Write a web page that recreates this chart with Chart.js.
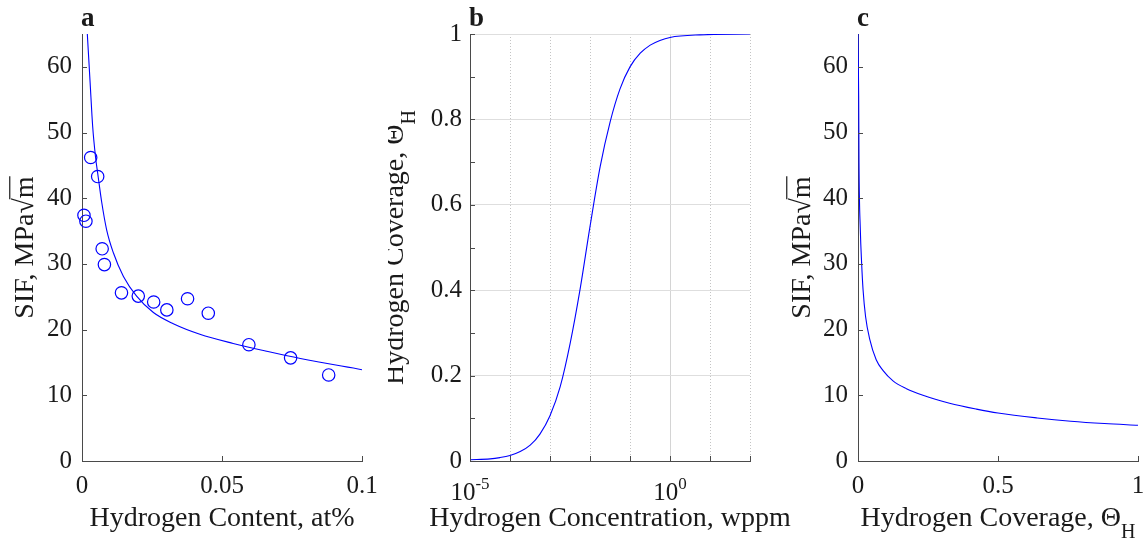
<!DOCTYPE html>
<html>
<head>
<meta charset="utf-8">
<script src="https://cdn.jsdelivr.net/npm/chart.js@4.4.0/dist/chart.umd.min.js"></script>
<style>
  html, body { margin: 0; padding: 0; background: #fff; }
  #wrap { position: relative; width: 1146px; height: 545px; overflow: hidden; }
  canvas { position: absolute; top: 0; }
</style>
</head>
<body>
<div id="wrap">
  <canvas id="panelA" width="382" height="545" style="left:0"></canvas>
  <canvas id="panelB" width="420" height="545" style="left:388px"></canvas>
  <canvas id="panelC" width="370" height="545" style="left:776px"></canvas>
</div>
<script>
// panel a: measured SIF against hydrogen content (circles) and the fitted curve
const aContent = [0.0007, 0.0014, 0.0031, 0.0056, 0.0072, 0.0080, 0.0141, 0.0201, 0.0256, 0.0303, 0.0377, 0.0451, 0.0596, 0.0745, 0.0881];
const aSif = [37.4, 36.5, 46.2, 43.3, 32.3, 29.9, 25.6, 25.1, 24.2, 23.0, 24.7, 22.5, 17.7, 15.7, 13.1];
const aFitContent = [0.0019, 0.0029, 0.0038, 0.0048, 0.0058, 0.0070, 0.0088, 0.0112, 0.0148, 0.0195, 0.0255, 0.0326, 0.0421, 0.054, 0.066, 0.078, 0.1];
const aFitSif = [65.0, 57.6, 51.0, 46.4, 43.2, 39.5, 35.2, 31.7, 28.1, 25.1, 22.6, 20.9, 19.3, 17.9, 16.7, 15.6, 13.9];

// panel b: hydrogen coverage against concentration (log axis)
const bConc = [1e-5, 3.2e-5, 5.6e-5, 1e-4, 1.8e-4, 3.2e-4, 5.6e-4, 1e-3, 1.8e-3, 3.2e-3, 5.6e-3, 1e-2, 1.8e-2, 3.2e-2, 5.6e-2, 0.1, 0.18, 0.32, 0.56, 1, 5.6, 100];
const bCoverage = [0.003, 0.005, 0.008, 0.013, 0.022, 0.037, 0.063, 0.106, 0.174, 0.276, 0.40, 0.549, 0.69, 0.795, 0.871, 0.923, 0.955, 0.974, 0.985, 0.992, 0.998, 1.0];

// panel c: SIF against hydrogen coverage
const cCoverage = [0, 0.0024, 0.0036, 0.0083, 0.013, 0.018, 0.027, 0.042, 0.065, 0.089, 0.125, 0.173, 0.232, 0.327, 0.423, 0.5, 0.64, 0.76, 0.88, 1.0];
const cSif = [65, 55.6, 45.4, 35.2, 30.1, 26.1, 22.0, 18.5, 15.4, 13.8, 12.2, 11.0, 10.0, 8.8, 7.9, 7.3, 6.55, 6.05, 5.7, 5.45];

// ticks
const sifTicks = [0, 10, 20, 30, 40, 50, 60];
const aXTicks = [0, 0.05, 0.1];
const bYTicks = [0, 0.2, 0.4, 0.6, 0.8, 1];
const bYMinor = [0.1, 0.3, 0.5, 0.7, 0.9];
const bXTicks = [1e-5, 1e-4, 1e-3, 1e-2, 1e-1, 1, 10, 100];
const bXLabelAt = [1e-5, 1];
const bXLabelPow = ['-5', '0'];
const cXTicks = [0, 0.5, 1];

const serif = "'Liberation Serif', 'Times New Roman', Times, serif";
const axisColor = '#4a4a4a';
const textColor = '#1a1a1a';
const blue = '#0000ff';

function fontStr(size, bold) {
    return (bold ? 'bold ' : '') + size + 'px ' + serif;
}

// draws a row of text runs (for sub/superscripts) centred on x, baseline y
function drawRuns(ctx, runs, x, y, vertical) {
    ctx.save();
    ctx.translate(x, y);
    if (vertical) ctx.rotate(-Math.PI / 2);
    ctx.textAlign = 'left';
    ctx.textBaseline = 'alphabetic';
    let total = 0;
    const widths = runs.map(r => {
        ctx.font = fontStr(r.size);
        const w = ctx.measureText(r.text).width;
        total += w;
        return w;
    });
    let cx = -total / 2;
    runs.forEach((r, i) => {
        ctx.font = fontStr(r.size);
        ctx.fillText(r.text, cx, -(r.rise || 0));
        if (r.over) {
            ctx.save();
            ctx.strokeStyle = textColor;
            ctx.lineWidth = 1.2;
            ctx.beginPath();
            ctx.moveTo(cx - 1, -r.size * 0.83);
            ctx.lineTo(cx + widths[i], -r.size * 0.83);
            ctx.stroke();
            ctx.restore();
        }
        cx += widths[i];
    });
    ctx.restore();
}

const panelText = {
    id: 'panelText',
    afterDraw(chart, args, o) {
        const {ctx, chartArea: area} = chart;
        const xs = chart.scales.x, ys = chart.scales.y;
        ctx.save();
        // inward tick marks
        ctx.strokeStyle = axisColor;
        ctx.lineWidth = 1;
        ctx.beginPath();
        o.xMarks.forEach(v => {
            const px = Math.round(xs.getPixelForValue(v)) + 0.5;
            ctx.moveTo(px, area.bottom);
            ctx.lineTo(px, area.bottom - 5);
        });
        o.yMarks.forEach(v => {
            const py = Math.round(ys.getPixelForValue(v)) + 0.5;
            ctx.moveTo(area.left, py);
            ctx.lineTo(area.left + 5, py);
        });
        ctx.stroke();

        ctx.fillStyle = textColor;
        ctx.font = fontStr(27, true);
        ctx.textAlign = 'left';
        ctx.textBaseline = 'alphabetic';
        ctx.fillText(o.letter, area.left - 1, 26);

        drawRuns(ctx, o.xTitle, (area.left + area.right) / 2, 526, false);
        drawRuns(ctx, o.yTitle, area.left - o.yTitleGap, (area.top + area.bottom) / 2, true);

        if (o.powerLabels) {
            o.powerLabels.at.forEach((v, i) => {
                drawRuns(ctx, [{text: '10', size: 25}, {text: o.powerLabels.pow[i], size: 17, rise: 11}],
                    xs.getPixelForValue(v), 500, false);
            });
        }
        ctx.restore();
    }
};

const sifTitle = [{text: 'SIF, MPa\u221A', size: 28}, {text: 'm', size: 28, over: true}];
const coverageTitle = [{text: 'Hydrogen Coverage, \u0398', size: 28}, {text: 'H', size: 20, rise: -12}];

function fixBox(s, horizontal) {
    if (horizontal) s.height = 84; else s.width = 82;
    s.paddingLeft = 0;
    s.paddingRight = 0;
    s.paddingTop = 0;
    s.paddingBottom = 0;
}

function linearAxis(min, max, ticks, horizontal, pad) {
    return {
        type: 'linear',
        min: min,
        max: max,
        afterBuildTicks: s => { s.ticks = ticks.map(v => ({value: v})); },
        afterFit: s => fixBox(s, horizontal),
        grid: {display: false, drawTicks: false},
        border: {display: true, color: axisColor, width: 1},
        ticks: {
            font: {family: serif, size: 25},
            color: textColor,
            padding: pad,
            autoSkip: false,
            maxRotation: 0,
            callback: v => String(v)
        }
    };
}

function baseOptions(padRight, scales, textOpts) {
    return {
        responsive: false,
        animation: false,
        events: [],
        devicePixelRatio: 1,
        layout: {padding: {left: 0, right: padRight, top: 34, bottom: 0}},
        plugins: {legend: {display: false}, tooltip: {enabled: false}, panelText: textOpts},
        scales: scales
    };
}

function toPoints(xs, ys) {
    return xs.map((x, i) => ({x: x, y: ys[i]}));
}

function lineSet(xs, ys) {
    return {
        data: toPoints(xs, ys),
        showLine: true,
        borderColor: blue,
        borderWidth: 1.1,
        pointRadius: 0,
        cubicInterpolationMode: 'monotone',
        fill: false
    };
}

// panel a
new Chart(document.getElementById('panelA'), {
    type: 'scatter',
    data: {
        datasets: [
            {
                data: toPoints(aContent, aSif),
                pointStyle: 'circle',
                pointRadius: 6.2,
                pointBorderWidth: 1.2,
                pointBorderColor: blue,
                pointBackgroundColor: 'rgba(0,0,0,0)',
                clip: false
            },
            lineSet(aFitContent, aFitSif)
        ]
    },
    options: baseOptions(20, {
        x: linearAxis(0, 0.1, aXTicks, true, 10),
        y: linearAxis(0, 65, sifTicks, false, 10)
    }, {
        letter: 'a',
        xMarks: aXTicks,
        yMarks: sifTicks,
        xTitle: [{text: 'Hydrogen Content, at%', size: 28}],
        yTitle: sifTitle,
        yTitleGap: 49
    }),
    plugins: [panelText]
});

// panel b
const bY = linearAxis(0, 1, bYTicks, false, 8);
bY.grid = {display: true, drawTicks: false, color: '#dedede', lineWidth: 1};
new Chart(document.getElementById('panelB'), {
    type: 'scatter',
    data: {datasets: [lineSet(bConc, bCoverage)]},
    options: baseOptions(58, {
        x: {
            type: 'logarithmic',
            min: 1e-5,
            max: 100,
            afterBuildTicks: s => { s.ticks = bXTicks.map(v => ({value: v, major: v === 1})); },
            afterFit: s => fixBox(s, true),
            grid: {
                display: true,
                drawTicks: false,
                lineWidth: 1,
                color: c => (c.tick && c.tick.value === 1) ? '#d4d4d4' : '#c4c4c4'
            },
            border: {
                display: true,
                color: axisColor,
                width: 1,
                dash: c => (c.type === 'tick' && c.tick.value !== 1) ? [1, 2] : []
            },
            ticks: {display: false}
        },
        y: bY
    }, {
        letter: 'b',
        xMarks: bXTicks,
        yMarks: bYTicks.concat(bYMinor),
        xTitle: [{text: 'Hydrogen Concentration, wppm', size: 28}],
        yTitle: coverageTitle,
        yTitleGap: 67,
        powerLabels: {at: bXLabelAt, pow: bXLabelPow}
    }),
    plugins: [panelText]
});

// panel c
new Chart(document.getElementById('panelC'), {
    type: 'scatter',
    data: {datasets: [lineSet(cCoverage, cSif)]},
    options: baseOptions(8, {
        x: linearAxis(0, 1, cXTicks, true, 10),
        y: linearAxis(0, 65, sifTicks, false, 10)
    }, {
        letter: 'c',
        xMarks: cXTicks,
        yMarks: sifTicks,
        xTitle: coverageTitle,
        yTitle: sifTitle,
        yTitleGap: 48
    }),
    plugins: [panelText]
});
</script>
</body>
</html>
